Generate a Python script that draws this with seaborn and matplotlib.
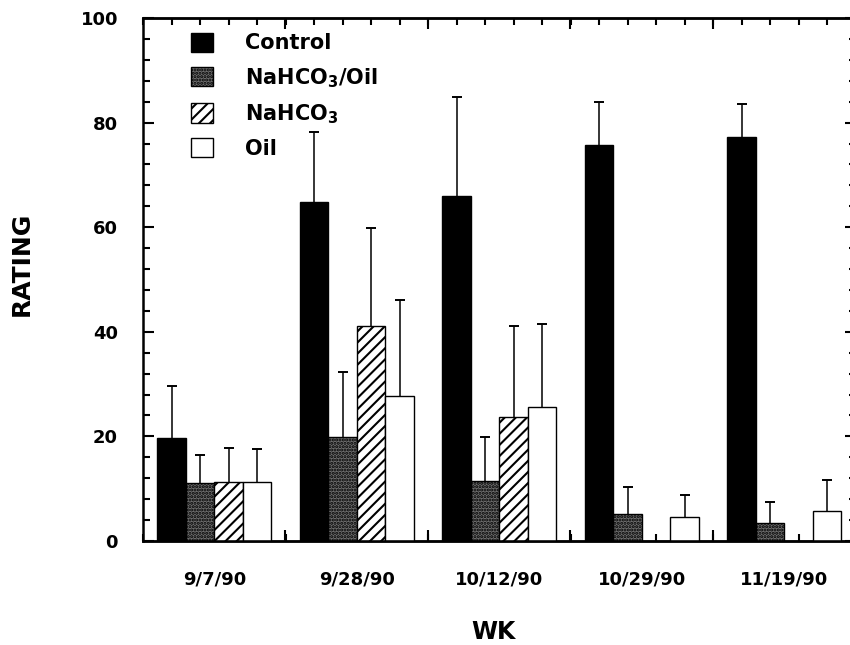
import numpy as np
import pandas as pd
import matplotlib
matplotlib.use("Agg")
import matplotlib.pyplot as plt
import matplotlib.patches as mpatches
from matplotlib.ticker import MultipleLocator
import seaborn as sns

# data (mean rating, upper error = SD)
weeks = ["9/7/90", "9/28/90", "10/12/90", "10/29/90", "11/19/90"]
treatments = ["Control", "NaHCO3/Oil", "NaHCO3", "Oil"]
legend_labels = ["Control", "NaHCO$_3$/Oil", "NaHCO$_3$", "Oil"]

control = [19.6, 64.8, 66.0, 75.8, 77.3]
control_sd = [10.0, 13.4, 18.8, 8.2, 6.3]
nahco3_oil = [11.0, 19.8, 11.5, 5.1, 3.5]
nahco3_oil_sd = [5.4, 12.5, 8.4, 5.3, 4.0]
nahco3 = [11.3, 41.1, 23.7, 0.0, 0.0]
nahco3_sd = [6.5, 18.8, 17.4, np.nan, np.nan]
oil = [11.3, 27.8, 25.6, 4.5, 5.7]
oil_sd = [6.3, 18.3, 15.9, 4.3, 6.0]

means = [control, nahco3_oil, nahco3, oil]
sds = [control_sd, nahco3_oil_sd, nahco3_sd, oil_sd]

df = pd.DataFrame({
    "week": weeks * 4,
    "treatment": [t for t in treatments for _ in weeks],
    "rating": control + nahco3_oil + nahco3 + oil,
})

sns.set_theme(style="ticks")
plt.rcParams["font.family"] = ["DejaVu Sans"]
plt.rcParams["font.weight"] = "bold"
plt.rcParams["text.color"] = "black"
plt.rcParams["axes.labelcolor"] = "black"
plt.rcParams["mathtext.fontset"] = "custom"
plt.rcParams["mathtext.bf"] = "DejaVu Sans:bold"
plt.rcParams["mathtext.rm"] = "DejaVu Sans:bold"
plt.rcParams["mathtext.default"] = "bf"
plt.rcParams["hatch.linewidth"] = 1.5

face = ["black", "#6e6e6e", "white", "white"]
hatches = ["", ".....", "///", ""]

fig = plt.figure(figsize=(8.5, 6.45), dpi=100)
ax = fig.add_axes([143 / 850, 104 / 645, 712.5 / 850, 523 / 645])

sns.barplot(data=df, x="week", y="rating", hue="treatment", order=weeks,
            hue_order=treatments, palette=face, saturation=1, width=0.8,
            gap=0, edgecolor="black", linewidth=1, errorbar=None,
            legend=False, ax=ax)

for cont, h, sd in zip(ax.containers, hatches, sds):
    xs, ys = [], []
    for bar in cont:
        bar.set_hatch(h)
        xs.append(bar.get_x() + bar.get_width() / 2)
        ys.append(bar.get_height())
    eb = ax.errorbar(xs, ys, yerr=[np.zeros(len(sd)), sd], fmt="none",
                     ecolor="black", elinewidth=1.1, capsize=3.5,
                     capthick=1.4, zorder=3)
    # only the upper cap is drawn in the original
    eb.lines[1][0].set_visible(False)

ax.set_xlim(-0.5, 4.5)
ax.set_ylim(0, 100)
ax.set_yticks(range(0, 101, 20))
ax.yaxis.set_minor_locator(MultipleLocator(4))
ax.xaxis.set_minor_locator(MultipleLocator(0.2, offset=0.1))

for s in ax.spines.values():
    s.set_visible(True)
    s.set_linewidth(1.8)
    s.set_color("black")

ax.tick_params(axis="y", which="both", direction="in", left=True, right=True,
               width=1.5, colors="black", labelsize=13)
ax.tick_params(axis="y", which="major", length=8, pad=18)
ax.tick_params(axis="y", which="minor", length=5)
ax.tick_params(axis="x", which="major", length=0, pad=21, labelsize=13,
               colors="black")
ax.tick_params(axis="x", which="minor", direction="in", top=True,
               bottom=True, length=5, width=1.5, colors="black")

# longer ticks between the weeks, top and bottom
for side in ["top", "bottom"]:
    sec = ax.secondary_xaxis(side)
    sec.set_xticks([0.5, 1.5, 2.5, 3.5])
    sec.tick_params(direction="in", length=8, width=1.5, colors="black",
                    labeltop=False, labelbottom=False)
    sec.spines[side].set_linewidth(1.8)

ax.set_xlabel("WK", fontsize=17, fontweight="bold")
ax.set_ylabel("RATING", fontsize=18, fontweight="bold")
ax.xaxis.set_label_coords(0.4926, -0.152)
ax.yaxis.set_label_coords(-0.153, 0.53)

handles = [mpatches.Patch(facecolor=c, edgecolor="black", hatch=h,
                          linewidth=1) for c, h in zip(face, hatches)]
ax.legend(handles, legend_labels, loc="upper left",
          bbox_to_anchor=(0.068, 0.972), frameon=False, fontsize=15,
          handlelength=1.05, handleheight=1.05, handletextpad=1.5,
          labelspacing=0.6, borderpad=0, borderaxespad=0)

fig.savefig("out.png", dpi=100)
